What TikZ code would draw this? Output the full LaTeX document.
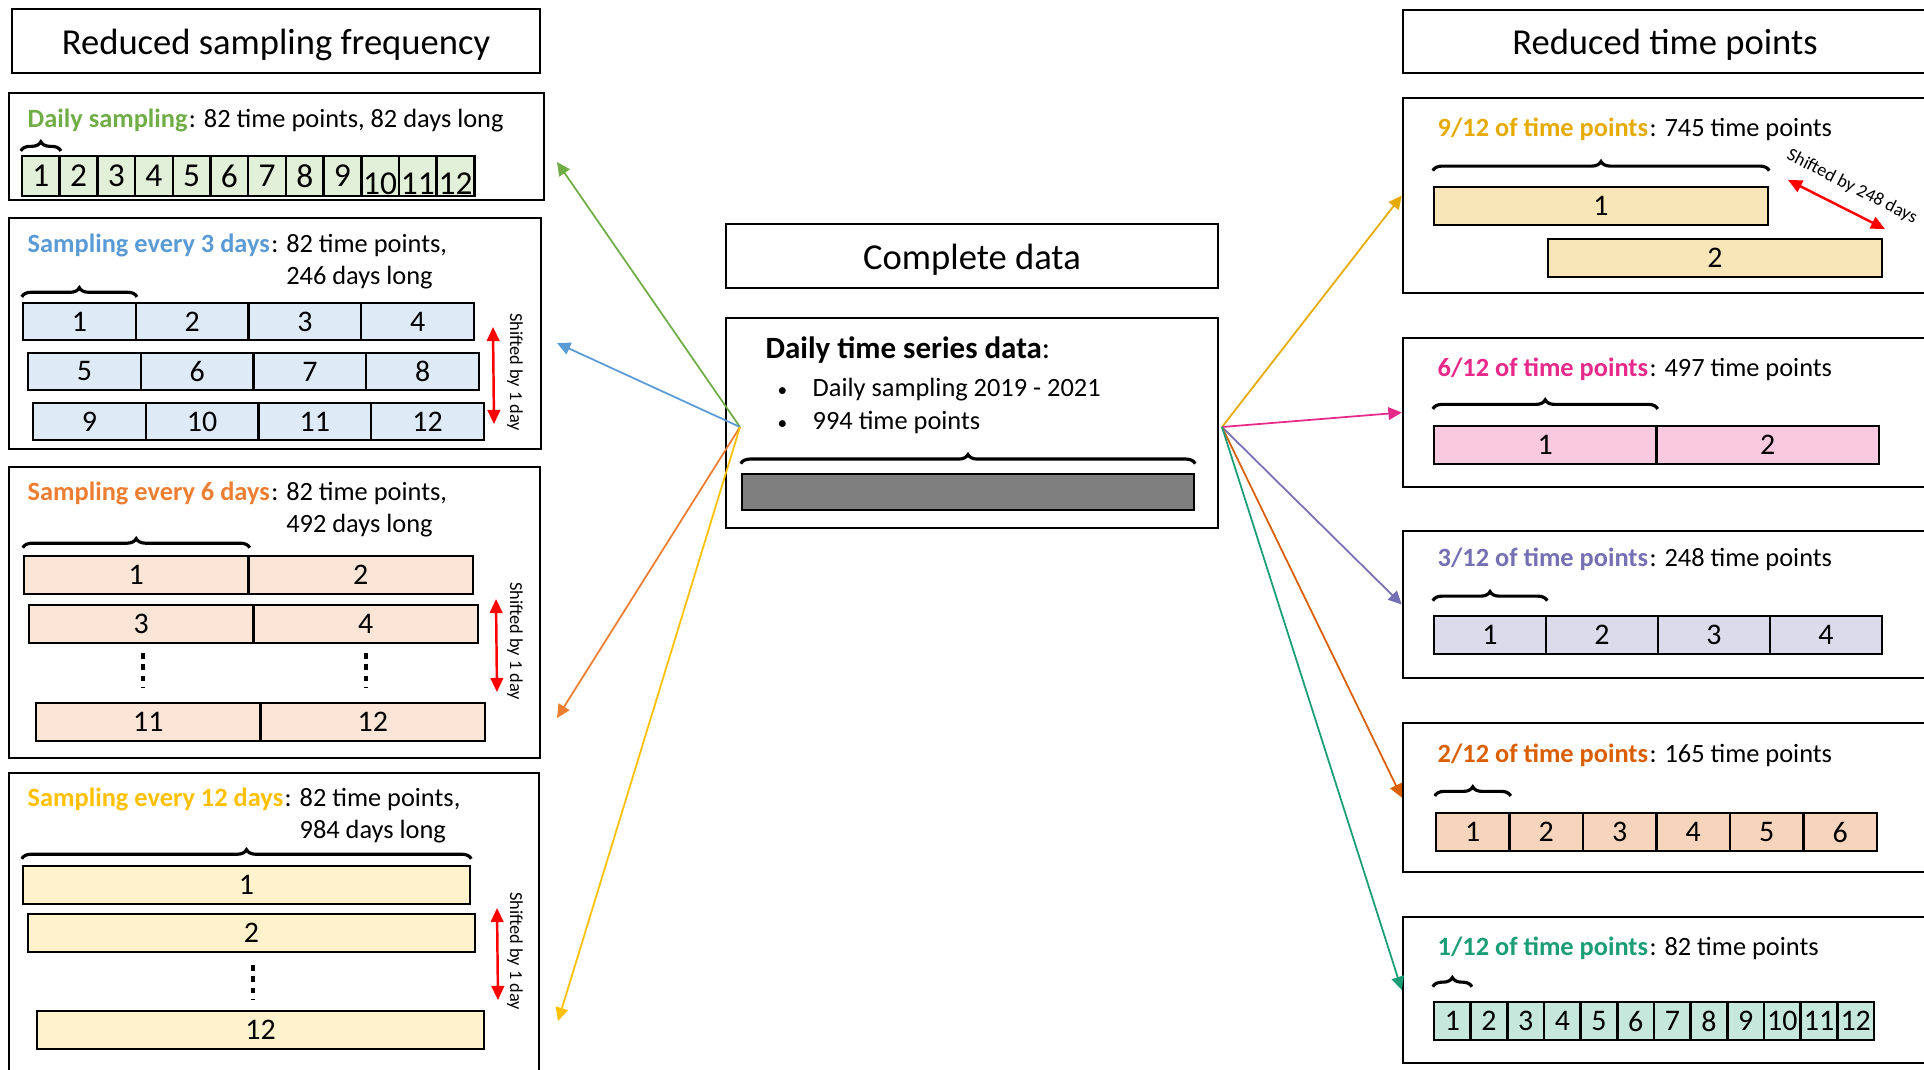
\documentclass[tikz,border=0pt]{standalone}
\usepackage{fontspec}
\setmainfont{Carlito}
\usetikzlibrary{arrows.meta,decorations.pathreplacing,fit}

\definecolor{dailycol}{HTML}{70AD47}
\definecolor{dailyfill}{HTML}{E2F0D9}
\definecolor{threecol}{HTML}{5B9BD5}
\definecolor{threefill}{HTML}{DEEBF7}
\definecolor{sixcol}{HTML}{ED7D31}
\definecolor{sixfill}{HTML}{FBE5D6}
\definecolor{twelvecol}{HTML}{FFC000}
\definecolor{twelvefill}{HTML}{FFF2CC}
\definecolor{ninetwcol}{HTML}{E6AB02}
\definecolor{ninetwfill}{HTML}{F8E6B9}
\definecolor{sixtwcol}{HTML}{E7298A}
\definecolor{sixtwfill}{HTML}{F8C9DF}
\definecolor{threetwcol}{HTML}{7570B3}
\definecolor{threetwfill}{HTML}{DCDBEC}
\definecolor{twotwcol}{HTML}{D95F02}
\definecolor{twotwfill}{HTML}{F7D5BD}
\definecolor{onetwcol}{HTML}{1B9E77}
\definecolor{onetwfill}{HTML}{C6E7DC}
\definecolor{barfill}{HTML}{7F7F7F}
\definecolor{shiftred}{HTML}{FF0000}

\begin{document}
\begin{tikzpicture}
[x=0.01cm,y=-0.01cm,
  boxdecorate/.style={draw,line width=0.7pt,inner sep=0pt},%
  headtext/.style={inner sep=0pt,yshift=-1pt,font={\fontsize{10.4}{12}\selectfont}},%
  celldecorate/.style={draw,line width=0.7pt,inner sep=0pt},%
  celltext/.style={inner sep=0pt,font={\fontsize{8.5}{10}\selectfont}},%
  titledecorate/.style={anchor=base west,inner sep=0pt,font={\fontsize{7.5}{9.1}\selectfont}},%
  shiftdecorate/.style={inner sep=0pt,font={\fontsize{5.2}{6}\selectfont}},%
  bracedecorate/.style={draw=black,decorate,decoration={brace,amplitude=2.6pt},line width=0.9pt},%
  dotdecorate/.style={line width=1.3pt,dash pattern=on 1.6pt off 1.6pt},%
  shiftline/.style={shiftred,line width=0.7pt,{Triangle[length=4pt,width=3.6pt]}-{Triangle[length=4pt,width=3.6pt]}},%
  linedecorate/.style={line width=0.5pt,-{Triangle[length=3.8pt,width=3.6pt]}}]
\useasboundingbox (0,0) rectangle (1924,1069);
\clip (0,0) rectangle (1924,1069);
%% headings
\node[boxdecorate,fit={(12,9) (540,73)},
  label={[headtext]center:Reduced sampling frequency}] (freqhead) {};
\node[boxdecorate,fit={(726,224) (1218,288)},
  label={[headtext]center:Complete data}] (fullhead) {};
\node[boxdecorate,fit={(1403,10) (1927,73)},
  label={[headtext]center:Reduced time points}] (pointshead) {};
%% panels
\foreach \name/\xa/\ya/\xb/\yb in {
  daily/9/93/544/200, every3/9/218/541/449, every6/9/467/540/758,
  every12/9/773/539/1080, data/726/318/1218/528, nine/1403/98/1927/293,
  six/1403/338/1927/487, three/1403/531/1927/678, two/1403/723/1927/872,
  one/1403/917/1927/1063} {
  \node[boxdecorate,fit={(\xa,\ya) (\xb,\yb)}] (\name) {};
}
%% panel titles
\foreach \name/\y/\colour/\key/\rest in {
  daily/127/dailycol/Daily sampling/82 time points{,} 82 days long,
  every3/252/threecol/Sampling every 3 days/82 time points{,}\\246 days long,
  every6/500/sixcol/Sampling every 6 days/82 time points{,}\\492 days long,
  every12/806/twelvecol/Sampling every 12 days/82 time points{,}\\984 days long} {
  \node[titledecorate,text=\colour] (\name key) at (27,\y) {\textbf{\key}};
  \node[titledecorate] (\name title) at (\name key.base east)
    {: \begin{tabular}[t]{@{}l@{}}\rest\end{tabular}};
}
\foreach \name/\y/\colour/\part/\count in {
  nine/136/ninetwcol/9/745, six/376/sixtwcol/6/497, three/566/threetwcol/3/248,
  two/762/twotwcol/2/165, one/955/onetwcol/1/82} {
  \node[titledecorate,text=\colour] (\name key) at (1437,\y) {\textbf{\part/12 of time points}};
  \node[titledecorate] (\name title) at (\name key.base east) {: \count\ time points};
}
%% complete data
\node[anchor=west,inner sep=0pt,font={\fontsize{8.8}{10}\selectfont}] (datatitle) at (765,350)
  {\textbf{Daily time series data}:};
\foreach \i/\y/\txt in {1/390/Daily sampling 2019 - 2021, 2/422/994 time points} {
  \node[anchor=west,inner sep=0pt,font={\fontsize{7.5}{9}\selectfont}] (bullet\i) at (777,\y)
    {\makebox[35\dimexpr0.01cm\relax][l]{\fontsize{5.5}{6}\selectfont\textbullet}\txt};
}
\node[celldecorate,fill=barfill,fit={(742,474) (1194,510)}] (databar) {};
\draw[bracedecorate,decoration={raise=2.6pt}] (databar.north west) -- (databar.north east);
%% daily cells
\foreach \i in {1,...,12} {
  \pgfmathsetmacro\dshift{\i>9 ? -2.2 : 0}
  \node[celldecorate,fill=dailyfill,
    fit={({22+(\i-1)*37.7},156) ({22+\i*37.7},196)},
    label={[celltext,font={\fontsize{9.5}{11}\selectfont},yshift=\dshift pt]center:\i}] (dd\i) {};
}
%% every 3 days
\foreach \r/\x/\y in {1/23/303, 2/28/353, 3/33/403} {
  \foreach \c in {1,...,4} {
    \pgfmathtruncatemacro\num{4*(\r-1)+\c}
    \node[celldecorate,fill=threefill,
      fit={({\x+(\c-1)*112.75},\y) ({\x+\c*112.75},\y+37)},
      label={[celltext]center:\num}] (td\num) {};
  }
}
%% every 6 days
\foreach \r/\x/\y/\first in {1/24/556/1, 2/29/605/3, 3/36/703/11} {
  \foreach \c in {1,2} {
    \pgfmathtruncatemacro\num{\first+\c-1}
    \node[celldecorate,fill=sixfill,
      fit={({\x+(\c-1)*224.5},\y) ({\x+\c*224.5},\y+38)},
      label={[celltext]center:\num}] (sd\num) {};
  }
}
%% every 12 days
\foreach \x/\y/\num in {23/866/1, 28/914/2, 37/1011/12} {
  \node[celldecorate,fill=twelvefill,fit={(\x,\y) (\x+447,\y+38)},
    label={[celltext]center:\num}] (wd\num) {};
}
%% reduced time points
\node[celldecorate,fill=ninetwfill,fit={(1434,187) (1768,225)},
  label={[celltext]center:1}] (nt1) {};
\node[celldecorate,fill=ninetwfill,fit={(1548,239) (1882,277)},
  label={[celltext]center:2}] (nt2) {};
\foreach \name/\x/\y/\n/\w/\fillc in {
  ht/1434/426/2/222.5/sixtwfill, qt/1434/616/4/112/threetwfill,
  xt/1436/813/6/73.5/twotwfill, ot/1434/1002/12/36.67/onetwfill} {
  \foreach \c in {1,...,\n} {
    \node[celldecorate,fill=\fillc,
      fit={({\x+(\c-1)*\w},\y) ({\x+\c*\w},\y+38)},
      label={[celltext]center:\c}] (\name\c) {};
  }
}
%% braces
\foreach \startnode/\endnode/\gap in {
  dd1/dd1/1.1pt, td1/td1/1.4pt, sd1/sd1/2pt, wd1/wd1/1.7pt,
  nt1/nt1/4.3pt, ht1/ht1/4.5pt, qt1/qt1/4pt, xt1/xt1/4.5pt, ot1/ot1/4pt} {
  \draw[bracedecorate,decoration={raise=\gap}] (\startnode.north west) -- (\endnode.north east);
}
%% dots
\draw[dotdecorate] (143,653) -- (143,688);
\draw[dotdecorate] (366,653) -- (366,688);
\draw[dotdecorate] (253,965) -- (253,1000);
%% shifts
\coordinate (s3top) at (493,327);
\coordinate (s3bot) at (494,424);
\coordinate (s6top) at (496,599);
\coordinate (s6bot) at (497,692);
\coordinate (s12top) at (497,908);
\coordinate (s12bot) at (498,1000);
\coordinate (s248a) at (1788,180);
\coordinate (s248b) at (1885,229);
\draw[shiftline] (s3top) -- (s3bot);
\draw[shiftline] (s6top) -- (s6bot);
\draw[shiftline] (s12top) -- (s12bot);
\draw[shiftline] (s248a) -- (s248b);
\node[shiftdecorate,rotate=-90] (s3text) at (515,372) {Shifted by 1 day};
\node[shiftdecorate,rotate=-90] (s6text) at (515,641) {Shifted by 1 day};
\node[shiftdecorate,rotate=-90] (s12text) at (515,951) {Shifted by 1 day};
\node[shiftdecorate,rotate=-27] (s248text) at (1852,187) {Shifted by 248 days};
%% edges or lines
\coordinate (srcL) at (740,427);
\coordinate (srcR) at (1222,427);
\coordinate (dailyin) at (557,162);
\coordinate (every3in) at (557,343);
\coordinate (every6in) at (557,718);
\coordinate (every12in) at (558,1021);
\path
\foreach \endnode/\colour in {dailyin/dailycol, every3in/threecol, every6in/sixcol, every12in/twelvecol} {
  (srcL) edge[linedecorate,\colour] (\endnode)
}
\foreach \endnode/\colour in {nine/ninetwcol, six/sixtwcol, three/threetwcol, two/twotwcol, one/onetwcol} {
  (srcR) edge[linedecorate,\colour] (\endnode.west)
};
\end{tikzpicture}
\end{document}
